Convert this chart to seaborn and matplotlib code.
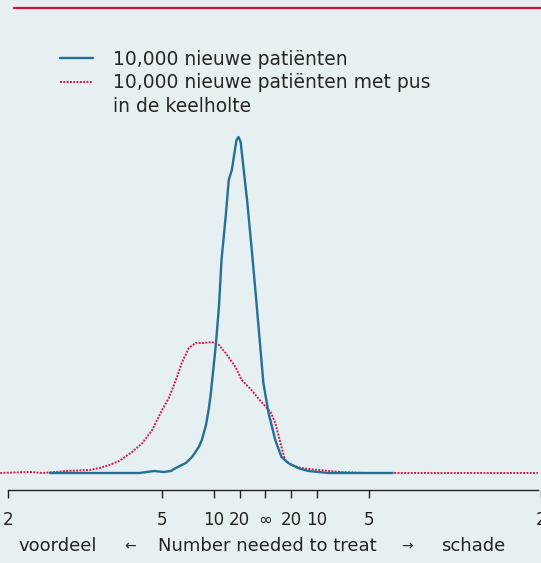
import matplotlib
matplotlib.use('Agg')
import matplotlib.pyplot as plt
from matplotlib.lines import Line2D
import pandas as pd
import seaborn as sns

# absolute risicoverschil (negatief = voordeel), dichtheid in willekeurige eenheden
blauw_x = [-0.417, -0.244, -0.215, -0.196, -0.183, -0.177, -0.162, -0.154, -0.142,
           -0.129, -0.123, -0.115, -0.110, -0.106, -0.102, -0.096, -0.090, -0.085,
           -0.077, -0.071, -0.065, -0.060, -0.056, -0.052, -0.048, -0.042, -0.035,
           -0.027, -0.019, -0.010, -0.004, 0.006, 0.019, 0.031, 0.044, 0.063, 0.083,
           0.121, 0.246]
blauw_y = [0, 0, 2, 1, 2, 4, 8, 10, 16,
           26, 33, 48, 63, 78, 98, 128, 166, 213,
           256, 293, 303, 320, 333, 336, 331, 303, 270,
           226, 180, 126, 90, 60, 33, 16, 10, 5, 2,
           0, 0]

rood_x = [-0.513, -0.456, -0.431, -0.385, -0.340, -0.321, -0.302, -0.283, -0.258,
          -0.238, -0.219, -0.200, -0.187, -0.173, -0.162, -0.148, -0.135, -0.119,
          -0.104, -0.090, -0.077, -0.058, -0.046, -0.027, -0.008, 0.010, 0.019,
          0.029, 0.038, 0.050, 0.069, 0.102, 0.146, 0.192, 0.527]
rood_y = [0, 1, 0, 2, 3, 5, 8, 12, 21,
          30, 43, 63, 75, 93, 110, 125, 130, 130,
          131, 128, 120, 106, 93, 83, 71, 61, 50,
          30, 13, 8, 5, 3, 1, 0, 0]

# rechter "2" valt in het origineel net buiten beeld
tick_pos = [-0.498, -0.2, -0.1, -0.05, 0, 0.05, 0.1, 0.2, 0.533]
tick_labels = ['2', '5', '10', '20', '∞', '20', '10', '5', '2']

label_blauw = '10,000 nieuwe patiënten'
label_rood_1 = '10,000 nieuwe patiënten met pus'
label_rood_2 = 'in de keelholte'

BG = '#e6f0f3'
BLAUW = '#236f96'
ROOD = '#d41a4f'
TXT = '#222222'

sns.set_theme(style='white', rc={'axes.facecolor': BG, 'figure.facecolor': BG})
plt.rcParams['font.family'] = ['DejaVu Sans']

fig = plt.figure(figsize=(5.41, 5.63), dpi=100)
ax = fig.add_axes([0, 73 / 563, 1, 470 / 563])

df_b = pd.DataFrame({'x': blauw_x, 'y': blauw_y})
df_r = pd.DataFrame({'x': rood_x, 'y': rood_y})
sns.lineplot(data=df_r, x='x', y='y', ax=ax, color=ROOD, lw=1.4,
             linestyle=(0, (1, 0.7)), sort=False)
sns.lineplot(data=df_b, x='x', y='y', ax=ax, color=BLAUW, lw=1.7, sort=False)

ax.set_xlim(-267 / 520, 274 / 520)
ax.set_ylim(-17, 453)
for s in ['top', 'right', 'left']:
    ax.spines[s].set_visible(False)
ax.spines['bottom'].set_color(TXT)
ax.spines['bottom'].set_linewidth(1.0)
ax.spines['bottom'].set_bounds(-0.498, 274 / 520)
ax.set_yticks([])
ax.set_xticks(tick_pos)
ax.set_xticklabels(tick_labels, fontsize=12, color=TXT)
ax.tick_params(axis='x', direction='out', length=6, width=1, colors=TXT,
               pad=9, bottom=True)
ax.set_xlabel('')
ax.set_ylabel('')

# legenda
handles = [Line2D([], [], color=BLAUW, lw=1.7),
           Line2D([], [], color=ROOD, lw=1.4, linestyle=(0, (1, 0.7))),
           Line2D([], [], color='none')]
ax.legend(handles, [label_blauw, label_rood_1, label_rood_2],
          loc='upper left', bbox_to_anchor=(60 / 541, 1 - 30 / 470),
          frameon=False, fontsize=13.5, handlelength=1.75, handletextpad=1.07,
          labelspacing=0.23, borderpad=0, borderaxespad=0)

# x-as onderschrift
y_lab = 1 - 546 / 563
fig.text(18 / 541, y_lab, 'voordeel', fontsize=13, va='center', ha='left', color=TXT)
fig.text(130 / 541, y_lab, '←', fontsize=10, va='center', ha='center', color=TXT)
fig.text(267 / 541, y_lab, 'Number needed to treat', fontsize=13, va='center', ha='center', color=TXT)
fig.text(407 / 541, y_lab, '→', fontsize=10, va='center', ha='center', color=TXT)
fig.text(505 / 541, y_lab, 'schade', fontsize=13, va='center', ha='right', color=TXT)

# rode lijn bovenaan
fig.add_artist(Line2D([14 / 541, 1], [1 - 8 / 563, 1 - 8 / 563],
                      transform=fig.transFigure, color='#d0103a', lw=1.6))

fig.savefig('out.png', dpi=100, facecolor=BG)
